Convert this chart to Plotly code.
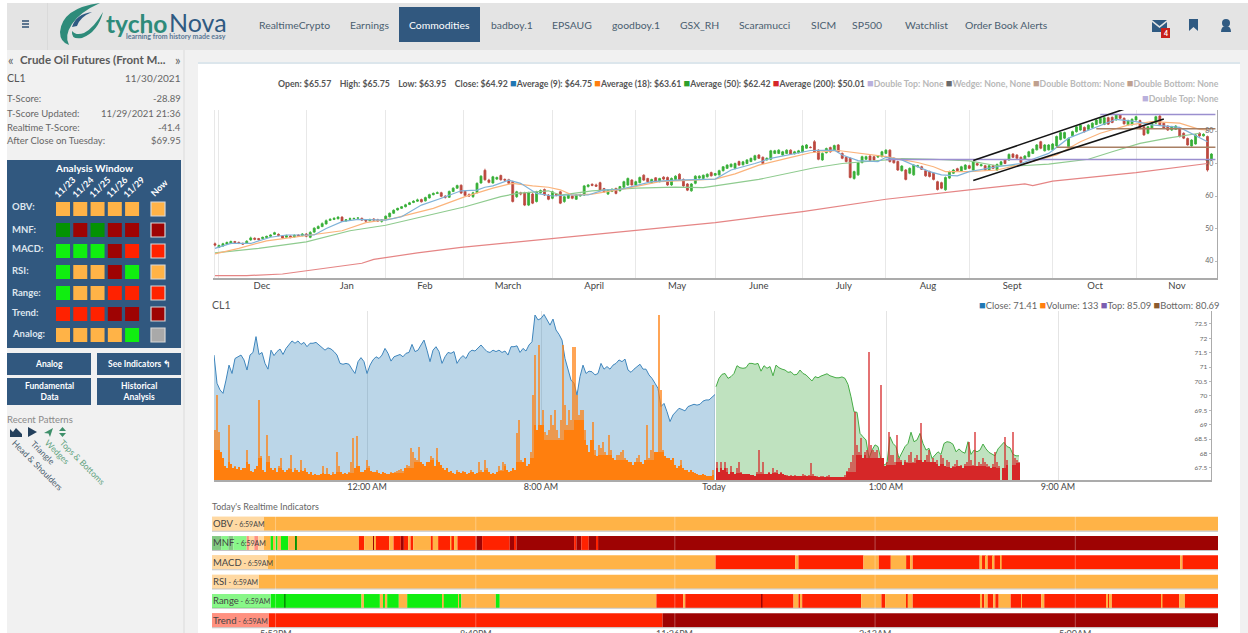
import plotly.graph_objects as go

W, H = 1248, 633
FONT = "Lato"

# ---------- daily candles (USD) ----------
opens = [45.3,44.2,44.6,45.2,45.4,46.0,45.7,45.4,45.5,46.5,47.0,46.9,46.9,47.2,47.6,48.2,48.2,47.7,47.3,47.7,47.4,48.0,47.8,
 48.3,47.3,48.9,50.0,50.6,51.4,52.5,52.8,53.0,53.5,52.3,52.8,53.0,53.2,53.1,52.6,52.4,52.9,52.7,52.2,
 52.7,53.6,54.7,55.7,56.2,56.7,57.4,58.0,58.4,58.9,58.5,59.4,60.4,60.8,61.0,59.9,59.6,61.4,62.4,63.3,
 61.4,60.4,59.8,61.0,64.0,67.9,64.9,64.0,65.2,66.3,65.1,65.0,64.4,59.8,61.0,61.0,57.2,60.6,58.3,61.0,62.0,60.3,59.3,60.6,61.3,
 58.3,59.3,60.0,59.0,60.0,60.3,62.9,63.6,63.4,64.1,62.3,60.6,61.4,62.3,61.6,62.7,63.4,64.9,63.4,64.1,66.4,65.4,64.1,65.6,64.4,65.8,65.7,63.4,65.1,66.7,65.1,63.7,61.6,63.9,65.5,65.4,65.9,67.2,66.4,66.5,
 67.8,68.5,69.0,68.5,70.6,69.6,70.0,70.6,71.1,72.6,71.9,71.1,71.3,73.1,73.1,72.6,73.1,74.1,73.0,73.3,73.6,74.7,75.0,76.7,74.1,71.1,73.3,74.9,74.1,75.7,73.1,71.9,71.6,65.4,66.5,70.3,71.3,72.3,72.1,72.0,72.1,73.1,74.1,71.6,70.6,67.8,
 68.0,67.0,66.5,69.0,69.0,67.8,67.5,67.0,64.4,64.1,61.9,65.5,67.0,68.4,67.7,68.2,69.3,68.0,70.0,69.3,69.3,68.0,69.3,68.0,69.6,71.1,71.1,72.9,72.6,71.9,71.3,72.1,73.1,74.2,76.7,73.9,74.2,74.2,75.4,77.4,77.8,75.2,78.5,79.8,80.3,81.1,80.5,81.1,82.0,82.4,82.0,84.1,84.2,83.4,84.9,83.9,81.9,81.9,83.4,83.2,81.3,79.3,80.8,82.4,84.6,82.4,81.5,80.3,80.5,80.8,79.3,77.7,75.4,76.0,79.3,78.5,78.3,71.3]
closes = [44.9,44.8,45.3,45.7,46.0,45.7,45.4,45.2,46.1,47.1,46.7,46.6,47.3,47.6,48.0,48.7,47.9,47.1,47.8,47.2,47.9,47.7,48.3,
 47.6,48.8,50.1,50.6,51.5,52.4,52.8,53.1,53.5,52.2,52.7,53.0,53.1,53.2,52.6,52.3,52.8,52.6,52.3,52.7,
 53.8,54.7,55.6,56.2,56.7,57.3,57.9,58.4,58.8,58.2,59.5,60.4,60.8,61.0,59.9,59.6,61.4,62.4,63.2,60.9,
 60.2,60.0,61.0,63.9,66.1,65.0,64.2,65.9,65.7,65.0,64.9,63.9,58.3,61.3,60.6,57.2,61.0,57.8,61.3,61.7,60.3,59.0,61.3,60.2,57.8,
 59.8,60.3,59.3,60.3,60.4,63.1,63.4,63.3,63.0,61.8,61.3,61.8,62.1,60.8,62.9,64.4,65.4,63.4,64.4,65.7,64.9,64.4,65.1,64.4,65.4,65.2,63.4,65.4,66.1,65.1,63.1,61.8,63.7,66.1,66.1,66.4,66.7,66.2,66.9,67.8,
 69.0,69.5,69.8,70.0,69.5,70.5,71.1,71.6,72.4,71.6,70.0,71.6,73.9,73.9,74.1,73.6,74.1,72.9,73.6,73.9,75.4,75.7,74.9,73.6,71.3,73.1,74.6,73.6,75.5,73.6,71.6,70.6,65.7,67.5,70.2,72.1,72.1,70.9,71.1,72.4,73.6,74.1,70.6,70.2,68.0,69.2,
 65.1,68.5,69.5,69.3,68.2,66.2,66.0,65.1,62.0,62.4,65.7,67.5,68.0,67.8,69.0,69.5,68.5,70.5,69.5,69.6,68.0,69.3,68.5,69.7,70.5,70.0,72.8,71.9,71.6,70.3,72.3,73.6,74.4,75.7,74.7,75.7,75.7,76.0,78.3,79.5,79.5,77.7,79.8,81.3,81.8,79.8,81.8,82.4,83.4,83.9,84.1,82.1,82.6,84.9,83.9,82.2,83.2,83.6,84.4,80.8,78.8,81.3,82.4,84.4,81.9,80.8,80.3,81.3,81.5,78.3,77.8,75.7,77.2,78.8,78.5,79.0,68.0,72.9]
highs = [45.7,45.0,45.6,46.0,46.3,46.2,46.0,45.7,46.4,47.5,47.3,47.1,47.5,47.8,48.2,49.0,48.5,47.9,48.1,47.9,48.2,48.2,48.6,
 48.6,49.2,50.4,51.0,51.9,52.8,53.2,53.5,53.8,53.8,52.9,53.4,53.3,53.5,53.4,52.9,53.0,53.2,53.0,52.9,
 54.0,54.9,55.9,56.4,56.9,57.6,58.2,58.7,59.2,59.2,59.8,60.7,61.1,61.4,61.3,60.3,61.7,62.7,63.5,63.6,
 61.7,60.8,61.3,64.2,66.4,68.4,65.3,66.2,66.0,66.6,65.4,65.3,64.7,61.6,61.3,61.3,61.3,61.0,61.6,62.0,62.3,60.6,61.6,60.9,61.6,
 60.1,60.5,60.3,60.6,60.7,63.4,63.7,63.9,63.8,64.4,62.5,62.1,62.3,62.6,63.1,64.7,65.7,65.2,64.7,66.0,66.7,65.6,65.3,65.8,65.6,66.1,66.0,65.7,66.4,67.0,65.4,64.0,64.0,66.4,66.4,66.6,67.0,67.5,67.1,68.1,
 69.2,69.8,70.0,70.3,70.9,70.8,71.3,71.8,72.7,72.9,72.2,71.9,74.2,74.2,74.4,73.9,74.4,74.4,73.9,74.2,75.7,76.0,75.3,77.2,74.4,73.4,74.9,75.2,75.8,76.0,73.4,72.2,71.9,67.8,70.5,72.4,72.4,72.6,72.4,72.6,73.9,74.4,74.4,71.9,70.9,69.5,
 68.3,68.8,69.8,69.6,69.3,68.1,67.8,67.3,64.7,64.4,66.0,67.8,68.3,68.7,69.3,69.8,69.6,70.8,70.3,69.9,69.6,69.6,69.6,70.0,70.8,71.4,73.1,73.2,72.9,72.2,72.6,73.9,74.7,76.0,77.0,76.0,76.0,76.3,78.6,79.8,79.8,78.0,80.1,81.6,82.1,81.4,82.1,82.7,83.7,84.2,84.4,84.4,84.5,85.2,85.2,84.2,83.5,83.9,84.7,83.5,81.6,81.6,82.7,84.7,85.0,82.7,81.8,81.6,81.8,81.1,79.6,78.0,77.5,79.1,79.6,79.3,78.6,73.2]
lows = [44.5,44.0,44.4,45.0,45.2,45.5,45.2,45.0,45.3,46.2,46.4,46.3,46.7,47.0,47.4,48.0,47.6,46.8,47.1,47.0,47.2,47.4,47.6,
 47.3,47.0,48.6,49.8,50.4,51.2,52.3,52.6,52.8,52.0,52.1,52.6,52.8,53.0,52.3,52.0,52.2,52.3,52.0,51.8,
 52.5,53.4,54.5,55.5,56.0,56.5,57.2,57.8,58.2,58.0,58.3,59.2,60.2,60.6,59.6,59.2,59.4,61.2,62.2,60.6,
 59.9,59.7,59.4,60.8,63.8,64.7,63.9,63.8,64.9,64.7,64.5,63.6,58.0,59.4,60.2,56.9,56.9,57.5,58.0,60.7,60.0,58.7,59.0,59.9,57.5,
 57.9,59.1,59.0,58.8,59.8,60.0,62.6,63.0,62.8,61.5,61.0,60.3,61.2,60.5,61.4,62.4,63.1,63.2,63.2,63.9,64.6,64.2,63.9,64.1,64.2,64.9,63.1,63.1,64.9,64.9,62.8,61.5,61.3,63.6,65.3,65.2,65.7,66.0,66.2,66.3,
 67.5,68.3,68.8,68.2,69.3,69.4,69.8,70.4,70.9,71.4,69.8,70.9,71.0,72.9,72.9,72.4,72.9,72.7,72.8,73.1,73.4,74.5,74.7,73.3,71.0,70.8,73.1,73.3,73.9,73.3,71.3,70.3,65.4,65.0,66.2,70.0,71.1,70.7,70.9,71.7,71.9,72.9,70.3,70.0,67.7,67.5,
 64.8,66.7,66.2,68.8,68.0,65.9,65.7,64.8,61.7,62.1,61.6,65.2,66.8,67.5,67.5,68.0,68.3,67.7,69.2,69.1,67.8,67.8,68.3,67.7,69.4,69.8,70.8,71.7,71.4,70.0,71.1,71.9,72.9,74.0,74.4,73.7,74.0,74.0,75.1,77.1,77.5,74.9,78.3,79.5,80.1,79.5,80.3,80.9,81.8,82.2,81.8,81.9,82.4,83.2,83.7,82.0,81.7,81.7,83.2,80.5,78.5,79.0,80.6,82.2,81.6,80.6,80.0,80.0,80.3,78.0,77.5,75.5,75.2,75.8,78.2,78.3,67.5,70.9]

# ---------- moving averages (USD), read at irregular trading days ----------
ma9_days = [0,4,9,14,18,25,28,32,36,43,47,52,57,62,66,68,70,74,77,81,85,89,94,98,102,107,110,116,121,126,130,136,140,146,150,156,158,162,167,169,173,176,180,183,187,190,197,203,210,215,222,227,232,236,243,246,250]
ma9 = [43.9,45.4,45.4,47.3,48.0,48.0,50.0,52.1,52.8,52.6,53.6,57.2,59.3,61.6,61.8,62.7,63.1,64.9,63.9,60.8,60.0,60.3,60.3,61.9,62.0,63.4,64.4,64.9,65.1,65.2,68.0,70.0,71.6,73.1,74.0,74.1,72.6,70.9,70.6,71.9,71.1,69.5,67.5,66.5,66.2,67.5,69.0,70.0,73.1,77.8,81.3,83.6,82.9,81.9,81.1,79.3,76.7]
ma18_days = [0,6,13,24,32,38,45,55,63,70,75,80,84,87,90,95,104,112,122,126,131,137,144,150,157,163,169,173,177,181,184,190,197,204,212,218,223,230,236,243,248,250]
ma18 = [42.2,43.9,46.2,48.0,49.3,51.8,53.1,56.2,59.8,62.4,63.9,63.1,62.7,61.9,60.3,60.6,62.4,64.4,65.1,65.2,66.8,69.5,71.6,73.3,74.0,73.0,72.1,71.2,70.3,69.0,67.5,67.5,68.0,70.0,72.6,76.7,79.3,81.8,82.9,82.4,80.5,80.3]
ma50_days = [0,11,23,34,43,50,63,72,76,84,87,95,106,116,123,137,151,158,167,173,181,190,197,203,210,220,226,233,240,248]
ma50 = [42.5,43.9,45.9,49.3,51.0,53.0,56.7,59.8,60.8,61.6,60.3,61.6,62.4,62.7,62.6,65.1,68.7,70.0,70.8,71.5,71.3,70.8,69.3,69.3,69.8,71.3,73.6,76.2,77.8,79.3]
ma200_days = [0,8,17,23,30,37,40,51,62,74,85,106,126,148,169,190,204,206,211,232,250]
ma200 = [35.5,35.5,36.0,37.0,38.3,39.3,40.5,42.5,44.2,45.6,47.0,49.3,51.8,55.2,59.0,61.9,63.7,63.2,64.6,67.2,70.0]

# ---------- pattern levels on the daily chart ----------
wedge_upper_days, wedge_upper = [191, 229], [70.9, 86.7]
wedge_lower_days, wedge_lower = [191, 239], [64.8, 83.7]
top_level_days, top_level = [223, 252], [85.09, 85.09]
mid_top_days, mid_top = [169, 252], [71.2, 71.2]
bottom_level_days, bottom_level = [222, 252], [80.69, 80.69]
low_bottom_days, low_bottom = [212, 252], [75.0, 75.0]

month_labels = ["Dec","Jan","Feb","March","April","May","June","July","Aug","Sept","Oct","Nov"]
month_label_days = [11.8,33.2,52.9,73.8,95.5,116.4,137,158.4,179.6,200.8,221.7,242.3]
month_start_days = [-0.2,1,23,43,62.5,85,106,126,148,169,190,211,232]

# ---------- intraday close and volume ----------
close_blue = [71.42,70.44,70.21,70.09,70.55,71.07,70.78,71.3,71.36,71.42,71.25,70.9,71.42,71.51,72.06,71.44,71.51,71.13,70.93,71.59,71.4,71.54,71.63,71.44,71.65,71.77,71.91,71.83,71.91,71.79,71.86,71.71,71.83,71.83,71.86,71.77,71.67,71.59,71.67,71.63,71.54,71.42,71.13,71.1,71.13,71.1,70.93,70.78,71.19,71.33,71.19,70.78,71.07,71.25,71.36,71.3,71.42,71.65,71.48,71.21,71.36,71.4,71.44,71.36,71.48,71.51,71.79,71.54,71.59,71.77,71.94,71.59,71.19,71.59,71.71,71.54,71.13,71.36,71.51,71.48,71.54,71.13,71.3,71.4,71.3,71.51,71.59,71.56,71.65,71.77,71.65,71.54,71.51,71.59,71.54,71.59,71.51,71.56,71.42,71.71,71.71,71.74,71.51,71.65,71.56,71.77,71.88,72.81,72.64,72.69,72.83,72.64,72.46,72.67,72.29,72.14,71.94,71.3,70.9,70.55,70.44,70.03,70.67,71.07,70.78,70.86,70.84,70.73,70.78,71.13,70.93,71.02,70.93,71.07,71.13,71.25,71.19,71.28,70.9,70.82,70.93,71.02,71.1,70.93,70.93,70.73,70.61,70.44,70.26,69.63,69.74,69.45,69.11,69.34,69.45,69.57,69.53,69.48,69.63,69.66,69.71,69.68,69.71,69.82,69.86,69.86,69.97,70.05]
close_green = [70.32,70.61,70.75,70.78,70.61,70.67,70.78,71.05,70.98,70.96,70.98,71.13,71.13,71.1,71.13,70.86,71.05,70.96,71.02,70.7,71.07,70.98,70.93,70.9,70.82,70.84,70.73,70.75,70.9,70.78,70.73,70.61,70.52,70.67,70.63,70.69,70.73,70.77,70.7,70.67,70.63,70.63,70.66,70.61,70.4,69.97,69.45,69.43,68.7,68.58,68.47,67.83,68.12,68.3,68.24,67.77,67.6,67.66,68.58,68.35,68.24,67.83,68.06,68.24,68.35,68.74,68.41,68.47,68.7,68.35,68.12,68.18,67.83,67.95,68.06,67.97,68.35,68.41,68.39,68.32,68.06,68.16,68.06,68.01,68.41,67.97,68.12,68.06,68.12,68.33,68.16,68.04,67.97,67.92,68.16,68.27,68.39,68.24,68.2,67.97,67.92,67.92]
volume_blue = [50,85,48,28,22,14,12,55,16,12, 14,11,13,10,12,12,30,16,9,8, 11,14,80,24,10,8,45,24,12,10, 12,8,14,22,10,8,10,12,25,8, 12,10,8,20,9,12,8,6,8,5,
 6,5,5,6,14,6,12,6,5,8, 6,28,14,8,6,7,6,8,18,42, 12,44,14,8,8,10,20,14,9,8, 8,10,7,6,8,7,6,6,8,7, 8,9,10,11,9,12,15,14,32,28,
 22,20,33,18,16,14,18,18,24,22, 14,32,18,15,12,10,12,8,9,7, 6,10,8,7,9,8,6,7,10,8, 6,7,18,10,8,20,12,8,6,7, 6,8,14,10,18,16,10,8,9,12,
 10,47,60,20,18,22,14,16,28,85, 125,50,135,55,70,48,45,50,65,55, 70,50,42,60,135,75,55,70,60,133, 133,85,65,70,70,50,35,28,40,58, 30,24,35,32,38,28,25,45,30,22,
 20,25,25,28,30,22,20,18,18,15, 18,22,25,18,16,20,55,22,30,95, 28,28,165,90,30,24,22,22,20,22, 15,12,14,20,12,10,10,8,10,8, 7,6,5,5,6,5,4,4,4,10]
volume_red = [18,8,18,10,18,12,6,14,8,6, 12,18,8,6,6,6,6,5,5,4, 8,30,8,18,6,6,8,6,12,8, 10,6,8,6,5,5,4,5,4,5, 4,4,4,6,5,4,5,17,6,4,
 4,3,4,4,3,4,5,3,3,3, 3,3,3,3,5,9,12,18,25,68, 35,28,42,22,28,30,128,35,30,28, 30,22,95,22,14,18,48,25,25,18, 45,22,20,15,20,18,25,28,18,22,
 25,20,57,18,20,25,30,18,22,18, 20,14,25,22,14,20,18,12,14,16, 20,14,15,12,16,18,38,20,15,48, 14,18,16,22,18,16,14,12,16,28, 18,14,0,12,43,20,0,0,48,22, 20,18]
# solid body of the volume, read every 5 bars (spikes above it are paler in the picture)
volume_blue_body = [30,18,13,18,22,18,12,11,10,10,7,6,8,7,14,12,8,7,7,12,18,20,20,14,8,8,8,10,9,14,18,22,55,40,40,50,60,40,25,25,20,20,18,20,28,25,15,10,7,5,5]
volume_red_body = [12,8,7,6,6,7,7,4,4,4,3,3,3,8,25,22,22,15,18,17,20,18,16,13,14,14,14,13,12,15,17]
intraday_ticks = [153, 327, 500, 672, 844]
intraday_labels = ["12:00 AM", "8:00 AM", "Today", "1:00 AM", "9:00 AM"]

# ---------- realtime indicators: minute where each state ends, and the state ----------
obv_ends, obv_states = [839], ["O"]
rsi_ends, rsi_states = [839], ["O"]
mnf_ends = [8,13.6,17.8,28.9,30.8,35.3,38.6,48.9,51.7,53,54.7,57.5,63.6,69.7,70.8,122.5,126.9,134.4,135.8,136.7,147.8,151.4,157.5,160,163.6,165.6,167.8,182.5,184.2,188.6,198.9,199.7,201.9,204.7,220.6,225.3,248.3,252.5,253.9,302,303.9,308,314.2,320.6,322,839]
mnf_states = ["g","G","g","G","R","O","R","O","G","O","G","O","G","O","g","O","R","O","D","O","R","O","R","D","R","O","R","O","R","O","R","O","R","O","R","D","R","D","R","D","R","D","R","D","R","D"]
macd_ends = [420,486.4,489.1,543.3,556.1,566.1,578.9,582.2,584.4,640.2,642.2,645.5,646.9,651.1,652.5,657.2,658.6,807.5,809.4,839]
macd_states = ["O","R"]*10
range_ends = [60.3,61.4,124.7,126.7,140,142.8,144.2,146.1,155.8,162.8,191.9,193.3,205.3,206.7,208,236.7,240,370.6,393,394.7,458.6,459.1,485,489.1,490.8,492.2,541.4,558.3,561.4,578.9,580.2,584.4,640.5,642.2,644.1,646.9,651.6,653.3,656.1,666.1,674.7,675.5,691.6,694.1,746.4,747.8,748.9,750.5,791.6,792.7,806.6,811.4,839]
range_states = ["G","g","G","O","G","O","G","O","G","O","G","O","G","O","G","O","G","O","R","O","R","D","R","O","R","O","R","O","R","O","R","O","R","O","R","O","R","O","R","O","R","O","R","O","R","O","R","O","R","O","R","O","R"]
trend_ends, trend_states = [375.8, 839], ["R", "D"]
indicator_names = ["OBV", "MNF", "MACD", "RSI", "Range", "Trend"]
indicator_label_px = [52, 52, 56, 47, 59, 57]
indicator_time = "6:59AM"
indicator_ticks = [53, 220, 386, 553, 720]
indicator_tick_labels = ["5:53PM", "8:40PM", "11:26PM", "2:13AM", "5:00AM"]

# ---------- analysis window grid ----------
window_rows = ["OBV:", "MNF:", "MACD:", "RSI:", "Range:", "Trend:", "Analog:"]
window_cols = ["11/23", "11/24", "11/25", "11/26", "11/29", "Now"]
window_col_pos = [0, 1, 2, 3, 4, 5.5]
window_states = [
    ["O","O","O","O","O","O"],
    ["g","D","g","D","D","D"],
    ["G","G","G","D","R","R"],
    ["G","O","O","D","G","O"],
    ["G","O","O","R","R","R"],
    ["R","R","R","D","D","D"],
    ["O","O","O","O","G","N"],
]
PAL = {"O":"#FFB347","R":"#FF2200","D":"#9E0303","G":"#10EE10","g":"#049304","N":"#A9A9A9"}

# ---------- text ----------
nav_items = [("RealtimeCrypto",294),("Earnings",369),("badboy.1",512),("EPSAUG",572),("goodboy.1",636),("GSX_RH",699),("Scaramucci",764),("SICM",823),("SP500",867),("Watchlist",926),("Order Book Alerts",1006)]

def fx(x): return x / W
def fy(y): return 1 - y / H
def dom_x(a, b): return [fx(a), fx(b)]
def dom_y(top, bottom): return [fy(bottom), fy(top)]

shapes, ann = [], []
def rect(x0, y0, x1, y1, fill, line=None, lw=1, layer="below"):
    shapes.append(dict(type="rect", xref="paper", yref="paper", x0=fx(x0), x1=fx(x1), y0=fy(y0), y1=fy(y1),
                       fillcolor=fill, line=dict(color=line or fill, width=lw if line else 0), layer=layer))
def path(d, fill, layer="above"):
    out, isx = [], True
    for t in d.split():
        if t.isalpha():
            out.append(t); isx = True
        else:
            out.append(f"{fx(float(t)):.5f}" if isx else f"{fy(float(t)):.5f}")
            isx = not isx
    shapes.append(dict(type="path", xref="paper", yref="paper", path=" ".join(out), fillcolor=fill, line=dict(width=0), layer=layer))
def text(x, y, s, size=10, color="#555", anchor="left", va="middle", angle=0, family=FONT):
    ann.append(dict(xref="paper", yref="paper", x=fx(x), y=fy(y), text=s, showarrow=False, xanchor=anchor, yanchor=va,
                    textangle=angle, font=dict(family=family, size=size, color=color), borderpad=0, borderwidth=0))

NAVY = "#31587F"
# page chrome
rect(0, 0, W, H, "#F1F1F1")
rect(0, 0, 7, H, "#FFFFFF")
rect(7, 0, W, 3, "#FFFFFF")
rect(7, 3, W, 50, "#E4E4E4")
rect(183, 50, 185, H, "#E6E6E6")
rect(198, 62, 1240, H, "#FFFFFF")
rect(198, 62, 1240, 64, "#DCE6EC")
rect(47, 3, 48, 50, "#DADADA")
# hamburger
for yy in (21, 24, 27):
    rect(22, yy - 0.8, 29, yy + 0.8, "#3A5A7A", layer="above")
# logo
path("M 100 3 Q 62 8 60 32 Q 60 42 69 45 Q 64 36 72 24 Q 80 12 100 3 Z", "#2E8B7A")
path("M 103 12 Q 98 32 82 38 Q 71 40 72 31 Q 76 36 84 33 Q 94 28 103 12 Z", "#2E8B7A")
path("M 72 27 Q 76 14 92 12 Q 80 17 77 26 Z", "#2F5A82")
text(106, 23, "<b>tycho</b>", 24.5, "#2E8B7A")
text(169, 22, "Nova", 25, "#2F5A82")
text(226, 36, "<b>learning from history made easy</b>", 7, "#5A7896", "right")
# nav
for label, cx in nav_items:
    text(cx, 25, label, 10.4, "#4A5E70", "center")
rect(399, 7, 480, 42, NAVY, layer="above")
text(439.5, 25, "Commodities", 10.4, "#FFFFFF", "center")
path("M 1152 20 L 1167 20 L 1159.5 26 Z", "#2F5A82")
path("M 1152 22 L 1159.5 28 L 1167 22 L 1167 32 L 1152 32 Z", "#2F5A82")
rect(1161, 28, 1170, 38, "#C8201C", layer="above")
text(1165.5, 33, "<b>4</b>", 7, "#FFFFFF", "center")
path("M 1189 19 L 1198 19 L 1198 31 L 1193.5 27 L 1189 31 Z", "#2F5A82")
path("M 1226 19 Q 1230 19 1230 23 Q 1230 27 1226 27 Q 1222 27 1222 23 Q 1222 19 1226 19 Z", "#2F5A82")
path("M 1221 32 Q 1221 26 1226 26 Q 1231 26 1231 32 Z", "#2F5A82")

# sidebar text
text(8, 60, "«", 13, "#666")
text(20, 60, "<b>Crude Oil Futures (Front M...</b>", 11.5, "#5A5A5A")
text(181, 60, "»", 13, "#666", "right")
text(7, 78, "CL1", 10.5, "#555")
text(181, 78, "11/30/2021", 10, "#666", "right")
for yy, a, b in [(99,"T-Score:","-28.89"),(113,"T-Score Updated:","11/29/2021 21:36"),(127,"Realtime T-Score:","-41.4"),(141,"After Close on Tuesday:","$69.95")]:
    text(7, yy, a, 9.5, "#666")
    text(181, yy, b, 9.5, "#666", "right")
rect(7, 160, 181, 348, NAVY)
text(94, 168, "<b>Analysis Window</b>", 10, "#FFFFFF", "center")
for c, cx in zip(window_cols, [63, 81, 98, 115, 132, 158]):
    text(cx + 1, 187, f"<b>{c}</b>", 9, "#FFFFFF", "center", angle=-45)
for r, yy in zip(window_rows, [207, 229, 249, 270, 292, 312, 333]):
    text(12, yy, f"<b>{r}</b>", 9.5, "#DDE5EE")
for x0, y0, x1, y1, lab in [(7,353,91,375,"Analog"),(97,353,181,375,"See Indicators ↰"),(7,378,91,405,"Fundamental<br>Data"),(97,378,181,405,"Historical<br>Analysis")]:
    rect(x0, y0, x1, y1, NAVY)
    text((x0 + x1) / 2, (y0 + y1) / 2, f"<b>{lab}</b>", 8.5, "#FFFFFF", "center")
text(7, 419, "Recent Patterns", 9.5, "#8A8A8A")
path("M 10 437 L 10 429 L 13 432 L 16 428 L 19 431 L 22 434 L 22 437 Z", "#24405C")
path("M 28 427 L 37 432 L 28 437 Z", "#24405C")
path("M 44 433 L 53 428 L 50 437 L 48.5 433.5 Z", "#3E8F6A")
path("M 62.5 427 L 66 431 L 59 431 Z", "#3E8F6A")
path("M 59 433 L 66 433 L 62.5 437 Z", "#3E8F6A")
text(37, 465, "Head &amp; Shoulders", 8.5, "#4A5E70", "center", angle=45)
text(43, 453, "Triangle", 8.5, "#4A5E70", "center", angle=45)
text(57, 452, "Wedges", 8.5, "#5FA27F", "center", angle=45)
text(82, 462, "Tops &amp; Bottoms", 8.5, "#5FA27F", "center", angle=45)

# legends
def key(c, s, active=True):
    col = "#555" if active else "#B8B8B8"
    return f'<span style="color:{c};font-size:11px">■</span><span style="color:{col}"><b>{s}</b></span>'
line1 = ('<span style="color:#555"><b>Open: $65.57 &nbsp;&nbsp; High: $65.75 &nbsp;&nbsp; Low: $63.95 &nbsp;&nbsp; Close: $64.92</b></span> '
         + " ".join([key("#1F77B4","Average (9): $64.75"),key("#FF7F0E","Average (18): $63.61"),key("#2CA02C","Average (50): $62.42"),key("#D62728","Average (200): $50.01"),
                     key("#B9B0DC","Double Top: None",False),key("#6A6A6A","Wedge: None, None",False),key("#BFA08E","Double Bottom: None",False),key("#BFA08E","Double Bottom: None",False)]))
text(1219, 83, line1, 8.72, "#555", "right")
text(1219, 97, key("#B9B0DC","Double Top: None",False), 8.72, "#555", "right")
text(212, 305, "CL1", 10.5, "#555")
text(1219, 304, " ".join([f'<span style="color:{c};font-size:11px">■</span>{s}' for c, s in [("#1F77B4","Close: 71.41"),("#FF7F0E","Volume: 133"),("#7B5EB0","Top: 85.09"),("#8C5A2E","Bottom: 80.69")]]), 9.4, "#666", "right")
text(212, 506, "Today's Realtime Indicators", 9, "#666")

traces = []
# daily chart
traces.append(go.Candlestick(x=list(range(len(opens))), open=opens, high=highs, low=lows, close=closes,
    increasing=dict(line=dict(color="#22A722", width=0.8), fillcolor="#22A722"),
    decreasing=dict(line=dict(color="#B5352B", width=0.8), fillcolor="#B5352B"),
    whiskerwidth=0, opacity=0.9, showlegend=False, xaxis="x", yaxis="y", hoverinfo="skip"))
for xs, ys, c in [(ma200_days,ma200,"#E58585"),(ma50_days,ma50,"#8FCB8F"),(ma18_days,ma18,"#FBB47C"),(ma9_days,ma9,"#7FB2D8")]:
    traces.append(go.Scatter(x=xs, y=ys, mode="lines", line=dict(color=c, width=1.2), xaxis="x", yaxis="y", showlegend=False, hoverinfo="skip"))
for xs, ys, c, w in [(top_level_days,top_level,"#9B8FCF",1.5),(mid_top_days,mid_top,"#9B8FCF",1.5),(bottom_level_days,bottom_level,"#A87F63",1.5),(low_bottom_days,low_bottom,"#A87F63",1.5),(wedge_upper_days,wedge_upper,"#151515",1.6),(wedge_lower_days,wedge_lower,"#151515",1.6)]:
    traces.append(go.Scatter(x=xs, y=ys, mode="lines", line=dict(color=c, width=w), xaxis="x", yaxis="y", showlegend=False, hoverinfo="skip", cliponaxis=False))

# intraday chart
blue_x = [3 * k for k in range(len(close_blue))]
green_x = [502 + 3 * k for k in range(len(close_green))]
traces.append(go.Scatter(x=blue_x, y=close_blue, mode="lines", line=dict(color="#3F86BD", width=1), fill="tozeroy", fillcolor="rgba(31,119,180,0.30)", xaxis="x2", yaxis="y2", showlegend=False, hoverinfo="skip"))
traces.append(go.Scatter(x=green_x, y=close_green, mode="lines", line=dict(color="#46AC46", width=1), fill="tozeroy", fillcolor="rgba(44,160,44,0.30)", xaxis="x2", yaxis="y2", showlegend=False, hoverinfo="skip"))
def volume_traces(values, body, x0, pale, solid):
    xs = [x0 + 2 * k for k in range(len(values))]
    solid_h = [min(v, body[k // 5]) for k, v in enumerate(values)]
    return [go.Bar(x=xs, y=values, width=2, marker=dict(color=pale, line=dict(width=0)), xaxis="x2", yaxis="y3", showlegend=False, hoverinfo="skip"),
            go.Bar(x=xs, y=solid_h, width=2, marker=dict(color=solid, line=dict(width=0)), xaxis="x2", yaxis="y3", showlegend=False, hoverinfo="skip")]
traces += volume_traces(volume_blue, volume_blue_body, 1, "rgba(255,127,14,0.7)", "#FF7F0E")
traces += volume_traces(volume_red, volume_red_body, 503, "rgba(214,39,40,0.65)", "#D62728")

# realtime strips
for row, (ends, states) in enumerate([(obv_ends,obv_states),(mnf_ends,mnf_states),(macd_ends,macd_states),(rsi_ends,rsi_states),(range_ends,range_states),(trend_ends,trend_states)]):
    starts = [0] + ends[:-1]
    traces.append(go.Bar(y=[row] * len(ends), x=[b - a for a, b in zip(starts, ends)], base=starts, orientation="h", width=0.72,
                         marker=dict(color=[PAL[s] for s in states], line=dict(width=0)), xaxis="x4", yaxis="y4", showlegend=False, hoverinfo="skip"))
for row, (name, wpx) in enumerate(zip(indicator_names, indicator_label_px)):
    yc = 523.65 + 19.3 * row
    rect(212, yc - 7, 212 + wpx, yc + 7, "rgba(255,255,255,0.5)", layer="above")
    text(213, yc, f'{name}<span style="font-size:7px"> - {indicator_time}</span>', 9.5, "#444")
    rect(212, yc + 7, 1218, yc + 8, "#C4C4C4", layer="above")
for t in indicator_ticks:
    shapes.append(dict(type="line", xref="x4", yref="y4 domain", x0=t, x1=t, y0=0, y1=1, line=dict(color="rgba(255,255,255,0.3)", width=1), layer="above"))
for t, lab in zip(indicator_ticks, indicator_tick_labels):
    ann.append(dict(xref="x4", yref="paper", x=t, y=fy(633), text=lab, showarrow=False, xanchor="center", yanchor="middle", font=dict(family=FONT, size=9, color="#555")))

# analysis window squares
for r, row in enumerate(window_states):
    traces.append(go.Scatter(x=window_col_pos, y=[r] * 6, mode="markers", xaxis="x5", yaxis="y5", showlegend=False, hoverinfo="skip", cliponaxis=False,
        marker=dict(symbol="square", size=14, color=[PAL[s] for s in row],
                    line=dict(width=[0, 0, 0, 0, 0, 1.2], color="#D8D8D8"))))

ax_off = dict(visible=False, showgrid=False, zeroline=False, fixedrange=True)
layout = go.Layout(
    width=W, height=H, autosize=False, margin=dict(l=0, r=0, t=0, b=0),
    paper_bgcolor="#FFFFFF", plot_bgcolor="rgba(0,0,0,0)", barmode="overlay", showlegend=False,
    font=dict(family=FONT), shapes=shapes, annotations=ann,
    xaxis=dict(domain=dom_x(213, 1217), range=[-0.5, 252.4], rangeslider=dict(visible=False), tickmode="array",
               tickvals=month_label_days, ticktext=month_labels, showgrid=False, zeroline=False, showline=True, linecolor="#ABABAB", linewidth=1.5,
               ticks="", ticklabelstandoff=-2, tickfont=dict(family=FONT, size=9.5, color="#444"),
               minor=dict(tickmode="array", tickvals=month_start_days, showgrid=True, gridcolor="#E8E8E8", gridwidth=1, ticks=""), anchor="y"),
    yaxis=dict(domain=dom_y(110, 278), range=[34.77, 86.46], side="right", tickmode="array", tickvals=[40,50,60,70,80], ticklabelposition="inside",
               showgrid=False, zeroline=False, showline=True, linecolor="#ABABAB", ticks="inside", ticklen=2, tickcolor="#BBBBBB",
               tickfont=dict(family=FONT, size=7, color="#666"), anchor="x"),
    xaxis2=dict(domain=dom_x(214, 1211), range=[0, 997], tickmode="array", tickvals=intraday_ticks, ticktext=intraday_labels, showgrid=True, gridcolor="#E4E4E4",
                zeroline=False, showline=True, linecolor="#ABABAB", linewidth=1.5, ticks="", ticklabelstandoff=-3, tickfont=dict(family=FONT, size=9, color="#444"), anchor="y2"),
    yaxis2=dict(domain=dom_y(311, 480), range=[67.08, 72.95], side="right", tickmode="array", tickvals=[67.5,68,68.5,69,69.5,70,70.5,71,71.5,72,72.5],
                ticktext=["67.5","68","68.5","69","69.5","70","70.5","71","71.5","72","72.5"], ticklabelposition="inside", showgrid=False, zeroline=False,
                showline=True, linecolor="#ABABAB", ticks="inside", ticklen=2, tickcolor="#BBBBBB", tickfont=dict(family=FONT, size=6.5, color="#666"), anchor="x2"),
    yaxis3=dict(domain=dom_y(311, 480), range=[0, 169], overlaying="y2", **ax_off),
    xaxis4=dict(domain=dom_x(212, 1218), range=[0, 839], anchor="y4", **ax_off),
    yaxis4=dict(domain=dom_y(514, 630), range=[5.5, -0.5], anchor="x4", **ax_off),
    xaxis5=dict(domain=dom_x(63, 158), range=[0, 5.5], anchor="y5", **ax_off),
    yaxis5=dict(domain=dom_y(209, 335), range=[6, 0], anchor="x5", **ax_off),
)
fig = go.Figure(data=traces, layout=layout)
fig.write_html("out.html", config=dict(displayModeBar=False, responsive=False),
               post_script="document.body.style.margin='0';document.body.style.overflow='hidden';")
